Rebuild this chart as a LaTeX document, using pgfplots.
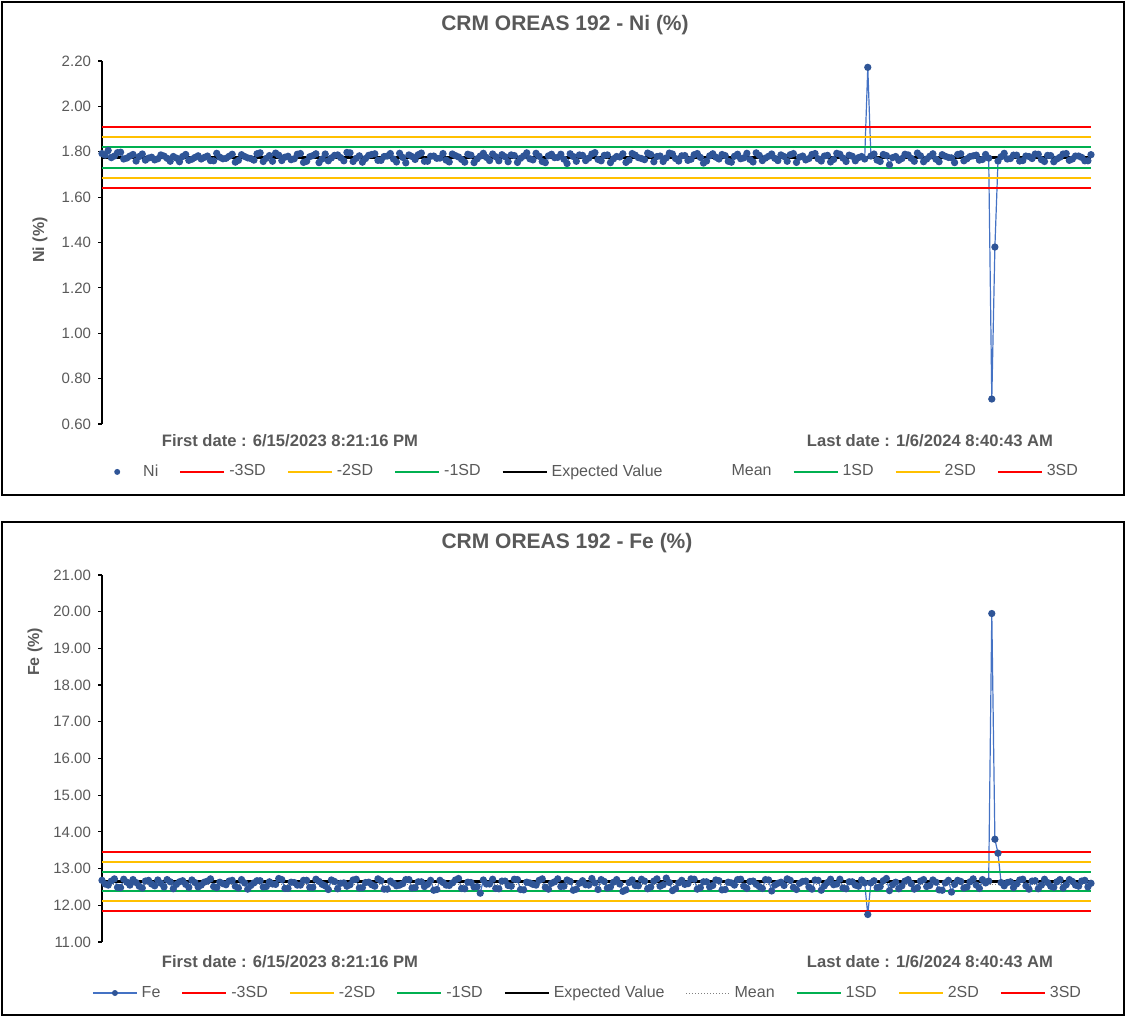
\documentclass[border=0pt]{standalone}
\usepackage{fontspec}
\setmainfont{Liberation Sans}
\usepackage{pgfplots}
\pgfplotsset{compat=1.18}
\definecolor{txt}{HTML}{595959}
\definecolor{sdred}{HTML}{FF0000}
\definecolor{sdorange}{HTML}{FFC000}
\definecolor{sdgreen}{HTML}{00B050}
\definecolor{dblue}{HTML}{4472C4}
\definecolor{mblue}{HTML}{2F5597}
\pgfplotsset{ctrl/.style={
  scale only axis, width=494.5pt,
  axis y line=left, axis x line=none,
  xmin=0, xmax=159.5, clip=false,
  axis line style={black, line width=0.8pt, -},
  tick align=outside, major tick length=2pt,
  ytick style={black, line width=0.6pt},
  yticklabel style={font=\fontsize{7.5}{8}\selectfont, text=txt},
  yticklabel={\pgfmathprintnumber[fixed,fixed zerofill,precision=2,assume math mode=true]{\tick}},
  legend style={draw=none, fill=none, font=\fontsize{8}{9}\selectfont\color{txt},
    /tikz/every even column/.append style={column sep=8.5pt}, anchor=center},
  legend columns=-1,
  legend image code/.code={\draw[#1] (0pt,0pt) -- (22pt,0pt);},
  datastyle/.style={dblue, line width=0.6pt, mark=*, mark size=1.5pt, mark options={mblue, fill=mblue, draw=mblue}},
}}
\begin{document}
\begin{tikzpicture}[x=1pt,y=1pt]
\useasboundingbox (0,0) rectangle (563,508.5);
\draw[line width=1.2pt] (1,507.5) rectangle (562,261);
\draw[line width=1.2pt] (1,247.5) rectangle (562,1);
% ---------------- Ni ----------------
\begin{axis}[ctrl, at={(51pt,296.5pt)}, anchor=south west, height=181.5pt,
  ymin=0.6, ymax=2.2, ytick={0.6,0.8,...,2.21},
  legend style={at={(0.492,-0.132)}}]
\addplot[datastyle, forget plot] coordinates {
(0,1.792) (0.5,1.785) (1,1.806) (1.5,1.774) (2,1.781) (2.5,1.796) (3,1.798) (3.5,1.768) (4,1.772) (4.5,1.781) (5,1.788) (5.5,1.759) (6,1.779) (6.5,1.790) (7,1.763) (7.5,1.772) (8,1.776) (8.5,1.764) (9,1.769) (9.5,1.786)
(10,1.781) (10.5,1.771) (11,1.758) (11.5,1.779) (12,1.772) (12.5,1.756) (13,1.779) (13.5,1.788) (14,1.762) (14.5,1.767) (15,1.775) (15.5,1.782) (16,1.768) (16.5,1.775) (17,1.781) (17.5,1.761) (18,1.760) (18.5,1.793) (19,1.776) (19.5,1.769)
(20,1.771) (20.5,1.780) (21,1.789) (21.5,1.754) (22,1.762) (22.5,1.787) (23,1.779) (23.5,1.773) (24,1.770) (24.5,1.763) (25,1.791) (25.5,1.795) (26,1.757) (26.5,1.771) (27,1.783) (27.5,1.758) (28,1.794) (28.5,1.785) (29,1.761) (29.5,1.776)
(30,1.780) (30.5,1.765) (31,1.769) (31.5,1.789) (32,1.792) (32.5,1.753) (33,1.758) (33.5,1.778) (34,1.783) (34.5,1.791) (35,1.752) (35.5,1.768) (36,1.790) (36.5,1.760) (37,1.773) (37.5,1.784) (38,1.786) (38.5,1.774) (39,1.760) (39.5,1.797)
(40,1.795) (40.5,1.757) (41,1.771) (41.5,1.782) (42,1.754) (42.5,1.770) (43,1.784) (43.5,1.788) (44,1.791) (44.5,1.762) (45,1.762) (45.5,1.779) (46,1.781) (46.5,1.792) (47,1.768) (47.5,1.755) (48,1.793) (48.5,1.775) (49,1.751) (49.5,1.786)
(50,1.779) (50.5,1.766) (51,1.787) (51.5,1.794) (52,1.758) (52.5,1.758) (53,1.780) (53.5,1.781) (54,1.771) (54.5,1.772) (55,1.792) (55.5,1.763) (56,1.755) (56.5,1.790) (57,1.783) (57.5,1.777) (58,1.766) (58.5,1.754) (59,1.789) (59.5,1.785)
(60,1.752) (60.5,1.769) (61,1.781) (61.5,1.793) (62,1.775) (62.5,1.761) (63,1.790) (63.5,1.778) (64,1.760) (64.5,1.787) (65,1.778) (65.5,1.756) (66,1.786) (66.5,1.783) (67,1.753) (67.5,1.771) (68,1.781) (68.5,1.795) (69,1.769) (69.5,1.764)
(70,1.793) (70.5,1.780) (71,1.757) (71.5,1.752) (72,1.782) (72.5,1.789) (73,1.774) (73.5,1.775) (74,1.789) (74.5,1.767) (75,1.748) (75.5,1.791) (76,1.779) (76.5,1.758) (77,1.786) (77.5,1.784) (78,1.761) (78.5,1.772) (79,1.790) (79.5,1.796)
(80,1.766) (80.5,1.760) (81,1.784) (81.5,1.786) (82,1.752) (82.5,1.769) (83,1.779) (83.5,1.777) (84,1.791) (84.5,1.753) (85,1.763) (85.5,1.792) (86,1.785) (86.5,1.774) (87,1.770) (87.5,1.765) (88,1.794) (88.5,1.788) (89,1.756) (89.5,1.779)
(90,1.781) (90.5,1.757) (91,1.773) (91.5,1.794) (92,1.790) (92.5,1.770) (93,1.759) (93.5,1.782) (94,1.783) (94.5,1.762) (95,1.767) (95.5,1.787) (96,1.792) (96.5,1.775) (97,1.750) (97.5,1.759) (98,1.782) (98.5,1.791) (99,1.776) (99.5,1.768)
(100,1.788) (100.5,1.783) (101,1.758) (101.5,1.754) (102,1.780) (102.5,1.789) (103,1.769) (103.5,1.773) (104,1.793) (104.5,1.766) (105,1.755) (105.5,1.795) (106,1.784) (106.5,1.761) (107,1.772) (107.5,1.780) (108,1.790) (108.5,1.771) (109,1.761) (109.5,1.786)
(110,1.779) (110.5,1.758) (111,1.787) (111.5,1.792) (112,1.753) (112.5,1.776) (113,1.781) (113.5,1.764) (114,1.770) (114.5,1.788) (115,1.792) (115.5,1.769) (116,1.759) (116.5,1.781) (117,1.784) (117.5,1.755) (118,1.766) (118.5,1.793) (119,1.789) (119.5,1.772)
(120,1.757) (120.5,1.785) (121,1.780) (121.5,1.760) (122,1.774) (122.5,1.779) (123,1.768) (123.5,2.172) (124,1.781) (124.5,1.790) (125,1.763) (125.5,1.757) (126,1.788) (126.5,1.783) (127,1.742) (127.5,1.774) (128,1.779) (128.5,1.762) (129,1.770) (129.5,1.789)
(130,1.786) (130.5,1.771) (131,1.758) (131.5,1.794) (132,1.782) (132.5,1.756) (133,1.768) (133.5,1.780) (134,1.791) (134.5,1.767) (135,1.756) (135.5,1.787) (136,1.780) (136.5,1.775) (137,1.773) (137.5,1.752) (138,1.788) (138.5,1.791) (139,1.760) (139.5,1.769)
(140,1.779) (140.5,1.782) (141,1.785) (141.5,1.763) (142,1.766) (142.5,1.788) (143,1.772) (143.5,0.710) (144,1.380) (144.5,1.759) (145,1.778) (145.5,1.793) (146,1.768) (146.5,1.770) (147,1.785) (147.5,1.785) (148,1.759) (148.5,1.761) (149,1.781) (149.5,1.779)
(150,1.770) (150.5,1.790) (151,1.789) (151.5,1.765) (152,1.757) (152.5,1.784) (153,1.783) (153.5,1.756) (154,1.768) (154.5,1.776) (155,1.790) (155.5,1.792) (156,1.762) (156.5,1.768) (157,1.781) (157.5,1.781) (158,1.775) (158.5,1.760) (159,1.760) (159.5,1.787)
};
\addplot[sdred, line width=1pt, forget plot] coordinates {(0,1.640) (159.5,1.640)};
\addplot[sdorange, line width=1pt, forget plot] coordinates {(0,1.685) (159.5,1.685)};
\addplot[sdgreen, line width=1pt, forget plot] coordinates {(0,1.730) (159.5,1.730)};
\addplot[black, line width=1.2pt, forget plot] coordinates {(0,1.775) (159.5,1.775)};
\addplot[sdgreen, line width=1pt, forget plot] coordinates {(0,1.820) (159.5,1.820)};
\addplot[sdorange, line width=1pt, forget plot] coordinates {(0,1.865) (159.5,1.865)};
\addplot[sdred, line width=1pt, forget plot] coordinates {(0,1.910) (159.5,1.910)};
\addlegendimage{draw=none, legend image code/.code={\path[draw=none] (0pt,0pt) -- (22pt,0pt); \fill[mblue, draw=none] (11pt,0pt) circle (1.5pt);}}
\addlegendentry{Ni}
\addlegendimage{sdred, line width=1pt}\addlegendentry{-3SD}
\addlegendimage{sdorange, line width=1pt}\addlegendentry{-2SD}
\addlegendimage{sdgreen, line width=1pt}\addlegendentry{-1SD}
\addlegendimage{black, line width=1pt}\addlegendentry{Expected Value}
\addlegendimage{draw=none, legend image code/.code={\path[draw=none] (0pt,0pt) -- (22pt,0pt);}}\addlegendentry{Mean}
\addlegendimage{sdgreen, line width=1pt}\addlegendentry{1SD}
\addlegendimage{sdorange, line width=1pt}\addlegendentry{2SD}
\addlegendimage{sdred, line width=1pt}\addlegendentry{3SD}
\end{axis}
% ---------------- Fe ----------------
\begin{axis}[ctrl, at={(51pt,37.5pt)}, anchor=south west, height=183.5pt,
  ymin=11, ymax=21, ytick={11,12,...,21},
  legend style={at={(0.492,-0.139)}}]
\addplot[datastyle, forget plot] coordinates {
(0,12.68) (0.5,12.58) (1,12.55) (1.5,12.66) (2,12.72) (2.5,12.49) (3,12.48) (3.5,12.71) (4,12.63) (4.5,12.55) (5,12.70) (5.5,12.62) (6,12.52) (6.5,12.47) (7,12.66) (7.5,12.68) (8,12.58) (8.5,12.53) (9,12.69) (9.5,12.60)
(10,12.50) (10.5,12.70) (11,12.64) (11.5,12.45) (12,12.57) (12.5,12.64) (13,12.67) (13.5,12.57) (14,12.49) (14.5,12.69) (15,12.62) (15.5,12.50) (16,12.55) (16.5,12.63) (17,12.66) (17.5,12.72) (18,12.51) (18.5,12.48) (19,12.63) (19.5,12.59)
(20,12.56) (20.5,12.66) (21,12.68) (21.5,12.52) (22,12.47) (22.5,12.70) (23,12.61) (23.5,12.44) (24,12.54) (24.5,12.61) (25,12.67) (25.5,12.67) (26,12.50) (26.5,12.51) (27,12.64) (27.5,12.58) (28,12.57) (28.5,12.73) (29,12.70) (29.5,12.46)
(30,12.46) (30.5,12.63) (31,12.62) (31.5,12.55) (32,12.55) (32.5,12.68) (33,12.68) (33.5,12.49) (34,12.49) (34.5,12.71) (35,12.65) (35.5,12.57) (36,12.53) (36.5,12.43) (37,12.69) (37.5,12.65) (38,12.45) (38.5,12.60) (39,12.61) (39.5,12.52)
(40,12.56) (40.5,12.69) (41,12.71) (41.5,12.47) (42,12.48) (42.5,12.62) (43,12.63) (43.5,12.56) (44,12.52) (44.5,12.72) (45,12.67) (45.5,12.44) (46,12.44) (46.5,12.66) (47,12.60) (47.5,12.53) (48,12.55) (48.5,12.59) (49,12.70) (49.5,12.70)
(50,12.47) (50.5,12.48) (51,12.64) (51.5,12.64) (52,12.51) (52.5,12.57) (53,12.68) (53.5,12.41) (54,12.43) (54.5,12.68) (55,12.62) (55.5,12.55) (56,12.54) (56.5,12.61) (57,12.69) (57.5,12.73) (58,12.46) (58.5,12.45) (59,12.63) (59.5,12.62)
(60,12.50) (60.5,12.51) (61,12.33) (61.5,12.69) (62,12.58) (62.5,12.58) (63,12.71) (63.5,12.46) (64,12.45) (64.5,12.66) (65,12.66) (65.5,12.54) (66,12.52) (66.5,12.71) (67,12.70) (67.5,12.43) (68,12.42) (68.5,12.63) (69,12.61) (69.5,12.57)
(70,12.55) (70.5,12.68) (71,12.72) (71.5,12.49) (72,12.44) (72.5,12.60) (73,12.64) (73.5,12.72) (74,12.51) (74.5,12.52) (75,12.69) (75.5,12.65) (76,12.41) (76.5,12.44) (77,12.60) (77.5,12.67) (78,12.56) (78.5,12.55) (79,12.73) (79.5,12.61)
(80,12.43) (80.5,12.70) (81,12.65) (81.5,12.47) (82,12.50) (82.5,12.63) (83,12.70) (83.5,12.58) (84,12.38) (84.5,12.42) (85,12.62) (85.5,12.69) (86,12.54) (86.5,12.53) (87,12.71) (87.5,12.66) (88,12.45) (88.5,12.50) (89,12.66) (89.5,12.72)
(90,12.52) (90.5,12.56) (91,12.74) (91.5,12.62) (92,12.40) (92.5,12.45) (93,12.61) (93.5,12.68) (94,12.57) (94.5,12.59) (95,12.72) (95.5,12.71) (96,12.44) (96.5,12.48) (97,12.64) (97.5,12.64) (98,12.50) (98.5,12.54) (99,12.69) (99.5,12.67)
(100,12.42) (100.5,12.43) (101,12.63) (101.5,12.61) (102,12.55) (102.5,12.70) (103,12.71) (103.5,12.52) (104,12.46) (104.5,12.65) (105,12.66) (105.5,12.57) (106,12.51) (106.5,12.46) (107,12.70) (107.5,12.69) (108,12.39) (108.5,12.55) (109,12.60) (109.5,12.63)
(110,12.54) (110.5,12.72) (111,12.68) (111.5,12.49) (112,12.43) (112.5,12.60) (113,12.65) (113.5,12.66) (114,12.50) (114.5,12.44) (115,12.69) (115.5,12.68) (116,12.41) (116.5,12.53) (117,12.62) (117.5,12.71) (118,12.56) (118.5,12.58) (119,12.71) (119.5,12.47)
(120,12.45) (120.5,12.64) (121,12.64) (121.5,12.55) (122,12.52) (122.5,12.69) (123,12.61) (123.5,11.75) (124,12.61) (124.5,12.67) (125,12.48) (125.5,12.51) (126,12.67) (126.5,12.73) (127,12.40) (127.5,12.56) (128,12.63) (128.5,12.45) (129,12.53) (129.5,12.66)
(130,12.70) (130.5,12.59) (131,12.44) (131.5,12.48) (132,12.66) (132.5,12.70) (133,12.51) (133.5,12.54) (134,12.69) (134.5,12.63) (135,12.42) (135.5,12.41) (136,12.61) (136.5,12.68) (137,12.36) (137.5,12.57) (138,12.68) (138.5,12.65) (139,12.47) (139.5,12.50)
(140,12.64) (140.5,12.72) (141,12.55) (141.5,12.46) (142,12.70) (142.5,12.61) (143,12.66) (143.5,19.95) (144,13.80) (144.5,13.42) (145,12.62) (145.5,12.53) (146,12.62) (146.5,12.64) (147,12.48) (147.5,12.58) (148,12.69) (148.5,12.71) (149,12.53) (149.5,12.44)
(150,12.66) (150.5,12.67) (151,12.45) (151.5,12.55) (152,12.71) (152.5,12.62) (153,12.52) (153.5,12.49) (154,12.64) (154.5,12.70) (155,12.47) (155.5,12.56) (156,12.70) (156.5,12.65) (157,12.55) (157.5,12.52) (158,12.66) (158.5,12.68) (159,12.50) (159.5,12.60)
};
\addplot[sdred, line width=1pt, forget plot] coordinates {(0,11.84) (159.5,11.84)};
\addplot[sdorange, line width=1pt, forget plot] coordinates {(0,12.11) (159.5,12.11)};
\addplot[sdgreen, line width=1pt, forget plot] coordinates {(0,12.38) (159.5,12.38)};
\addplot[gray, densely dotted, line width=0.4pt, forget plot] coordinates {(0,12.58) (159.5,12.58)};
\addplot[black, line width=1.2pt, forget plot] coordinates {(0,12.65) (159.5,12.65)};
\addplot[sdgreen, line width=1pt, forget plot] coordinates {(0,12.92) (159.5,12.92)};
\addplot[sdorange, line width=1pt, forget plot] coordinates {(0,13.19) (159.5,13.19)};
\addplot[sdred, line width=1pt, forget plot] coordinates {(0,13.46) (159.5,13.46)};
\addlegendimage{draw=none, legend image code/.code={\draw[dblue, line width=0.8pt] (0pt,0pt) -- (22pt,0pt); \fill[mblue, draw=none] (11pt,0pt) circle (1.5pt);}}
\addlegendentry{Fe}
\addlegendimage{sdred, line width=1pt}\addlegendentry{-3SD}
\addlegendimage{sdorange, line width=1pt}\addlegendentry{-2SD}
\addlegendimage{sdgreen, line width=1pt}\addlegendentry{-1SD}
\addlegendimage{black, line width=1pt}\addlegendentry{Expected Value}
\addlegendimage{gray, densely dotted, line width=0.5pt}\addlegendentry{Mean}
\addlegendimage{sdgreen, line width=1pt}\addlegendentry{1SD}
\addlegendimage{sdorange, line width=1pt}\addlegendentry{2SD}
\addlegendimage{sdred, line width=1pt}\addlegendentry{3SD}
\end{axis}
% ---------------- texts ----------------
\node[font=\fontsize{10.5}{12}\selectfont\bfseries, text=txt] at (282.5,496) {CRM OREAS 192 - Ni (\%)};
\node[font=\fontsize{10.5}{12}\selectfont\bfseries, text=txt] at (283.5,237) {CRM OREAS 192 - Fe (\%)};
\node[font=\fontsize{8}{10}\selectfont\bfseries, text=txt, rotate=90] at (20,388.5) {Ni (\%)};
\node[font=\fontsize{8}{10}\selectfont\bfseries, text=txt, rotate=90] at (17.5,182.5) {Fe (\%)};
\node[font=\fontsize{8.3}{10}\selectfont\bfseries, text=txt] at (145,288) {First date : 6/15/2023 8:21:16 PM};
\node[font=\fontsize{8.3}{10}\selectfont\bfseries, text=txt] at (465,288) {Last date : 1/6/2024 8:40:43 AM};
\node[font=\fontsize{8.3}{10}\selectfont\bfseries, text=txt] at (145,27.5) {First date : 6/15/2023 8:21:16 PM};
\node[font=\fontsize{8.3}{10}\selectfont\bfseries, text=txt] at (465,27.5) {Last date : 1/6/2024 8:40:43 AM};
\end{tikzpicture}
\end{document}
